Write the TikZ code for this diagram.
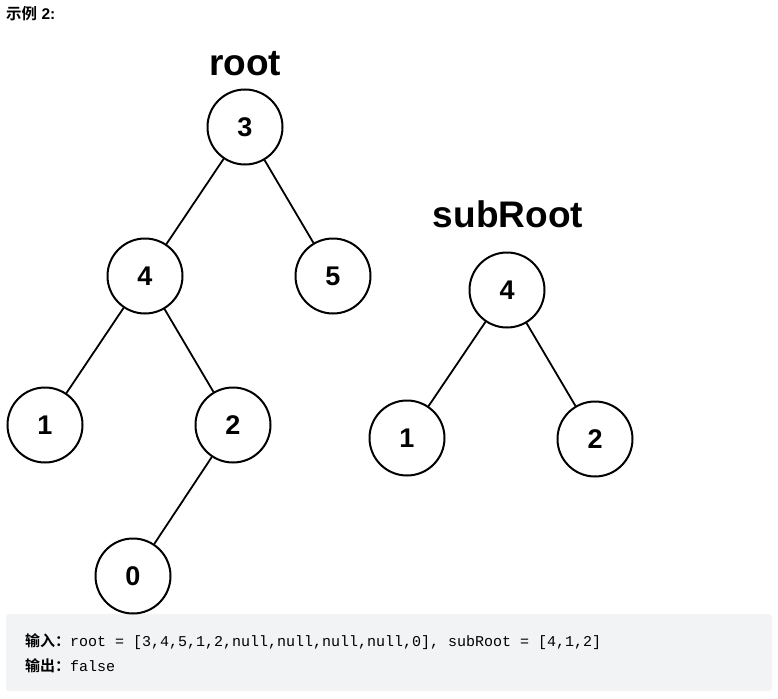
\documentclass[tikz,border=0pt]{standalone}
\usepackage{fontspec}
\setmainfont{Liberation Sans}
\setmonofont{Liberation Mono}
\newfontfamily\cjk{Noto Sans CJK SC}[BoldFont={Noto Sans CJK SC Bold}]
\definecolor{boxgray}{HTML}{F2F3F5}
\begin{document}
\begin{tikzpicture}[x=1pt,y=-1pt,
  tnode/.style={circle,draw=black,line width=2pt,minimum size=75pt,inner sep=0pt,font=\fontsize{27}{27}\selectfont\bfseries},
  tedge/.style={line width=1.8pt},
  biglabel/.style={anchor=base,inner sep=0pt,font=\fontsize{37}{37}\selectfont\bfseries},
  code/.style={anchor=base west,inner sep=0pt,font=\fontsize{15}{15}\selectfont}]
\useasboundingbox (0,0) rectangle (778,698);
\fill[white] (0,0) rectangle (778,698);
% title
\node[anchor=base west,inner sep=0pt,font=\fontsize{15.5}{15.5}\selectfont\bfseries] (title) at (6,20) {{\cjk 示例} 2:};
% gray box
\fill[boxgray,rounded corners=3pt] (6,614) rectangle (772,691);
% labels
\node[biglabel] (rootlbl) at (245,76) {root};
\node[biglabel] (sublbl) at (508,227) {subRoot};
% tree 1
\node[tnode] (r3) at (245,127) {3};
\node[tnode] (r4) at (145,276) {4};
\node[tnode] (r5) at (333,276) {5};
\node[tnode] (r1) at (45,425) {1};
\node[tnode] (r2) at (233,425) {2};
\node[tnode] (r0) at (133,576) {0};
\draw[tedge] (r3) -- (r4);
\draw[tedge] (r3) -- (r5);
\draw[tedge] (r4) -- (r1);
\draw[tedge] (r4) -- (r2);
\draw[tedge] (r2) -- (r0);
% tree 2
\node[tnode] (s4) at (507,290) {4};
\node[tnode] (s1) at (407,438) {1};
\node[tnode] (s2) at (595,439) {2};
\draw[tedge] (s4) -- (s1);
\draw[tedge] (s4) -- (s2);
% code text
\node[code] (line1) at (25,646) {{\cjk\bfseries 输入：}\ttfamily root = [3,4,5,1,2,null,null,null,null,0], subRoot = [4,1,2]};
\node[code] (line2) at (25,671) {{\cjk\bfseries 输出：}\ttfamily false};
\end{tikzpicture}
\end{document}
